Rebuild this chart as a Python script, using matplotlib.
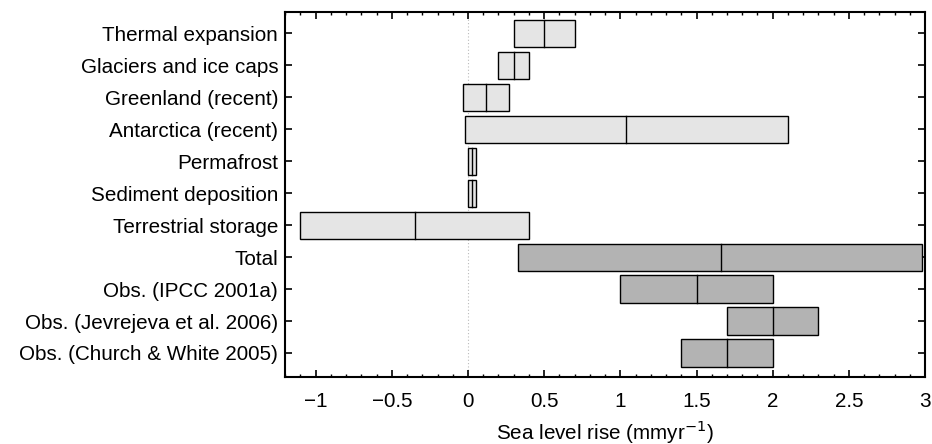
import matplotlib
matplotlib.use("Agg")
import matplotlib.pyplot as plt
import numpy as np
from matplotlib.ticker import MultipleLocator

plt.rcParams['font.family'] = ['Liberation Sans', 'DejaVu Sans']

categories = ["Thermal expansion", "Glaciers and ice caps", "Greenland (recent)",
              "Antarctica (recent)", "Permafrost", "Sediment deposition",
              "Terrestrial storage", "Total", "Obs. (IPCC 2001a)",
              "Obs. (Jevrejeva et al. 2006)", "Obs. (Church & White 2005)"]
low  = [0.30, 0.20, -0.03, -0.02, 0.00, 0.00, -1.10, 0.33, 1.00, 1.70, 1.40]
mid  = [0.50, 0.30,  0.12,  1.04, 0.025, 0.025, -0.35, 1.66, 1.50, 2.00, 1.70]
high = [0.70, 0.40,  0.27,  2.10, 0.05, 0.05,  0.40, 2.98, 2.00, 2.30, 2.00]
is_obs = [False]*7 + [True]*4
xtick_vals = [-1, -0.5, 0, 0.5, 1, 1.5, 2, 2.5, 3]
xtick_labels = ["\u22121", "\u22120.5", "0", "0.5", "1", "1.5", "2", "2.5", "3"]

light = "#e5e5e5"
dark = "#b3b3b3"
fs = 14.9

fig = plt.figure(figsize=(9.32, 4.44), dpi=100)
ax = fig.add_axes([0.306, 0.151, 0.6865, 0.822])

ax.axvline(0, color="#bbbbbb", lw=0.8, ls=(0, (1, 2)), zorder=0)

ypos = np.arange(len(categories))
h = 0.85
for y, lo, md, hi, ob in zip(ypos, low, mid, high, is_obs):
    ax.barh(y, hi - lo, left=lo, height=h, color=dark if ob else light,
            edgecolor="black", linewidth=1.0, zorder=2)
    ax.plot([md, md], [y - h/2, y + h/2], color="black", lw=1.0, zorder=3)

ax.set_xlim(-1.2, 3)
ax.set_ylim(10.75, -0.67)
ax.set_yticks(ypos)
ax.set_yticklabels(categories, fontsize=fs)
ax.set_xticks(xtick_vals)
ax.set_xticklabels(xtick_labels, fontsize=fs)
ax.xaxis.set_minor_locator(MultipleLocator(0.1))
ax.tick_params(axis="both", which="both", direction="in", top=True, right=True)
ax.tick_params(axis="both", which="major", length=5, width=1.2)
ax.tick_params(axis="y", which="major", pad=5)
ax.tick_params(axis="x", which="major", pad=11)
ax.tick_params(axis="x", which="minor", length=2.5, width=1.0)
for s in ax.spines.values():
    s.set_linewidth(1.5)
ax.set_xlabel("Sea level rise (mmyr$^{-1}$)", fontsize=fs, labelpad=5)

fig.savefig("out.png", dpi=100)
